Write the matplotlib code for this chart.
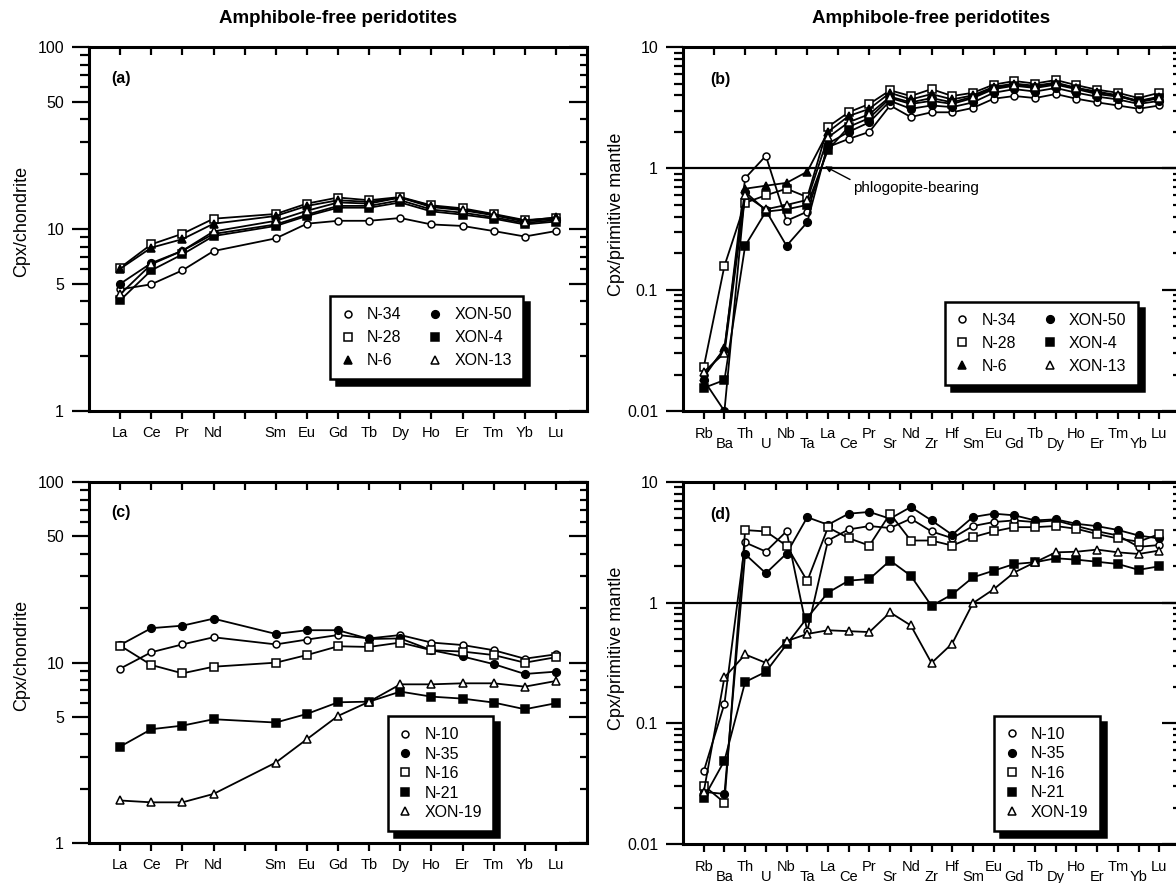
import numpy as np
import matplotlib
matplotlib.use('Agg')
import matplotlib.pyplot as plt
from matplotlib.lines import Line2D
from matplotlib.ticker import FixedLocator, FixedFormatter, NullFormatter

plt.rcParams['font.family'] = ['Liberation Sans', 'DejaVu Sans']

# element axes (Pm is a blank slot on the REE plots)
ree_axis = ['La', 'Ce', 'Pr', 'Nd', 'Pm', 'Sm', 'Eu', 'Gd', 'Tb', 'Dy', 'Ho', 'Er', 'Tm', 'Yb', 'Lu']
ree = ['La', 'Ce', 'Pr', 'Nd', 'Sm', 'Eu', 'Gd', 'Tb', 'Dy', 'Ho', 'Er', 'Tm', 'Yb', 'Lu']
trace = ['Rb', 'Ba', 'Th', 'U', 'Nb', 'Ta', 'La', 'Ce', 'Pr', 'Sr', 'Nd', 'Zr', 'Hf',
         'Sm', 'Eu', 'Gd', 'Tb', 'Dy', 'Ho', 'Er', 'Tm', 'Yb', 'Lu']

# (a) Cpx/chondrite, amphibole-free
a_N34 = [4.66, 4.97, 5.93, 7.57, 8.89, 10.7, 11.1, 11.1, 11.5, 10.6, 10.4, 9.75, 9.1, 9.75]
a_N28 = [6.13, 8.24, 9.42, 11.4, 12.1, 13.8, 14.9, 14.4, 15.0, 13.5, 13.0, 12.1, 11.2, 11.5]
a_N6 = [6.05, 7.9, 8.8, 10.7, 11.8, 13.4, 14.4, 14.1, 14.9, 13.4, 12.8, 12.0, 11.1, 11.6]
a_XON50 = [5.0, 6.5, 7.6, 9.4, 10.6, 12.0, 13.4, 13.4, 14.4, 12.8, 12.3, 11.6, 10.8, 11.2]
a_XON4 = [4.06, 5.93, 7.26, 9.15, 10.4, 11.8, 13.1, 13.1, 14.0, 12.5, 12.0, 11.4, 10.6, 11.0]
a_XON13 = [4.38, 6.4, 7.6, 9.7, 11.1, 12.6, 14.0, 13.8, 14.9, 13.2, 12.7, 11.9, 11.0, 11.4]

# (b) Cpx/primitive mantle, amphibole-free
b_N34 = [0.020, 0.032, 0.83, 1.27, 0.37, 0.44, 1.5, 1.75, 2.0, 3.3, 2.65, 2.9, 2.9,
         3.15, 3.75, 3.95, 3.8, 4.1, 3.75, 3.5, 3.3, 3.1, 3.3]
b_N28 = [0.023, 0.157, 0.52, 0.60, 0.68, 0.58, 2.2, 2.9, 3.4, 4.4, 3.95, 4.5, 3.95,
         4.2, 4.9, 5.25, 5.0, 5.35, 4.85, 4.45, 4.2, 3.8, 4.2]
b_N6 = [0.019, 0.033, 0.68, 0.72, 0.76, 0.94, 2.0, 2.7, 3.1, 4.2, 3.7, 4.1, 3.7,
        4.0, 4.7, 5.0, 4.8, 5.1, 4.6, 4.3, 4.0, 3.6, 3.9]
b_XON50 = [0.018, 0.010, 0.64, 0.45, 0.23, 0.36, 1.6, 2.0, 2.4, 3.6, 3.1, 3.3, 3.2,
           3.5, 4.2, 4.5, 4.3, 4.6, 4.2, 3.9, 3.7, 3.4, 3.6]
b_XON4 = [0.0155, 0.018, 0.23, 0.44, 0.46, 0.50, 1.42, 2.2, 2.6, 3.8, 3.4, 3.6, 3.4,
          3.8, 4.5, 4.8, 4.6, 4.9, 4.5, 4.1, 3.9, 3.6, 3.8]
b_XON13 = [0.021, 0.030, 0.60, 0.46, 0.50, 0.55, 1.8, 2.4, 2.8, 3.9, 3.5, 3.8, 3.5,
           3.9, 4.6, 4.9, 4.7, 5.0, 4.6, 4.2, 4.0, 3.5, 3.8]

# (c) Cpx/chondrite
c_N10 = [9.25, 11.4, 12.6, 13.8, 12.6, 13.4, 14.2, 13.6, 14.2, 12.9, 12.5, 11.7, 10.5, 11.1]
c_N35 = [12.5, 15.5, 16.0, 17.5, 14.4, 15.1, 15.1, 13.5, 13.6, 11.7, 10.8, 9.8, 8.64, 8.9]
c_N16 = [12.4, 9.69, 8.71, 9.48, 9.98, 11.0, 12.3, 12.2, 12.9, 11.7, 11.5, 11.0, 9.98, 10.7]
c_N21 = [3.42, 4.27, 4.47, 4.85, 4.65, 5.19, 6.02, 6.07, 6.9, 6.47, 6.31, 6.0, 5.51, 5.95]
c_XON19 = [1.72, 1.68, 1.68, 1.87, 2.79, 3.76, 5.06, 6.07, 7.57, 7.57, 7.67, 7.67, 7.35, 7.9]

# (d) Cpx/primitive mantle
d_N10 = [0.040, 0.145, 3.15, 2.65, 3.9, 0.58, 3.27, 4.04, 4.31, 4.15, 4.96, 3.89, 3.42,
         4.31, 4.65, 4.8, 4.65, 4.8, 4.31, 3.9, 3.6, 2.9, 3.0]
d_N35 = [0.027, 0.026, 2.52, 1.75, 2.55, 5.1, 4.42, 5.46, 5.64, 4.96, 6.2, 4.8, 3.65,
         5.12, 5.46, 5.29, 4.8, 4.9, 4.5, 4.3, 4.0, 3.6, 3.4]
d_N16 = [0.0305, 0.022, 3.99, 3.89, 2.96, 1.51, 4.2, 3.42, 2.97, 5.46, 3.27, 3.27, 2.97,
         3.49, 3.89, 4.22, 4.22, 4.31, 4.09, 3.7, 3.4, 3.2, 3.7]
d_N21 = [0.024, 0.049, 0.22, 0.267, 0.45, 0.75, 1.21, 1.52, 1.57, 2.23, 1.67, 0.94, 1.17,
         1.62, 1.84, 2.09, 2.16, 2.33, 2.27, 2.18, 2.09, 1.87, 2.0]
d_XON19 = [0.027, 0.24, 0.372, 0.317, 0.48, 0.55, 0.59, 0.58, 0.57, 0.83, 0.647, 0.316, 0.458,
           0.99, 1.29, 1.78, 2.16, 2.61, 2.64, 2.75, 2.61, 2.53, 2.7]

styles = {
    'oc': dict(marker='o', ms=5, mfc='white'),
    'fc': dict(marker='o', ms=5.5, mfc='black'),
    'os': dict(marker='s', ms=6, mfc='white'),
    'fs': dict(marker='s', ms=6, mfc='black'),
    'ft': dict(marker='^', ms=5.5, mfc='black'),
    'ot': dict(marker='^', ms=5.5, mfc='white'),
}

panel_a = [('N-34', a_N34, 'oc'), ('N-28', a_N28, 'os'), ('N-6', a_N6, 'ft'),
           ('XON-50', a_XON50, 'fc'), ('XON-4', a_XON4, 'fs'), ('XON-13', a_XON13, 'ot')]
panel_b = [('N-34', b_N34, 'oc'), ('N-28', b_N28, 'os'), ('N-6', b_N6, 'ft'),
           ('XON-50', b_XON50, 'fc'), ('XON-4', b_XON4, 'fs'), ('XON-13', b_XON13, 'ot')]
panel_c = [('N-10', c_N10, 'oc'), ('N-35', c_N35, 'fc'), ('N-16', c_N16, 'os'),
           ('N-21', c_N21, 'fs'), ('XON-19', c_XON19, 'ot')]
panel_d = [('N-10', d_N10, 'oc'), ('N-35', d_N35, 'fc'), ('N-16', d_N16, 'os'),
           ('N-21', d_N21, 'fs'), ('XON-19', d_XON19, 'ot')]

SPINE_W = 2.2
TICK_W = 1.6


def log_minor(lo_exp, hi_exp):
    return [m * 10.0 ** e for e in range(lo_exp, hi_exp) for m in range(2, 10)]


def style_axes(ax, n_slots, top_ticks, ylim, yticks, ylabels, minor, ylabel):
    ax.set_yscale('log')
    ax.set_ylim(*ylim)
    ax.set_xlim(-1, n_slots)
    for s in ax.spines.values():
        s.set_linewidth(SPINE_W)
    ax.yaxis.set_major_locator(FixedLocator(yticks))
    ax.yaxis.set_major_formatter(FixedFormatter(ylabels))
    ax.yaxis.set_minor_locator(FixedLocator(minor))
    ax.yaxis.set_minor_formatter(NullFormatter())
    ax.tick_params(axis='y', which='major', direction='out', length=12, width=TICK_W,
                   labelsize=11.5, pad=6, left=True, right=False)
    ax.tick_params(axis='y', which='minor', direction='out', length=6.5, width=TICK_W,
                   left=True, right=False)
    ax.tick_params(axis='x', which='both', direction='out', length=5.5, width=TICK_W,
                   labelsize=10.5, top=False)
    ax.set_ylabel(ylabel, fontsize=13)

    # inward ticks on the right
    axr = ax.twinx()
    axr.set_yscale('log')
    axr.set_ylim(*ylim)
    axr.yaxis.set_major_locator(FixedLocator(yticks))
    axr.yaxis.set_minor_locator(FixedLocator(minor))
    axr.yaxis.set_major_formatter(NullFormatter())
    axr.yaxis.set_minor_formatter(NullFormatter())
    axr.tick_params(axis='y', which='major', direction='in', length=13, width=TICK_W)
    axr.tick_params(axis='y', which='minor', direction='in', length=5, width=TICK_W)
    for s in axr.spines.values():
        s.set_visible(False)

    # inward ticks on the top
    axt = ax.twiny()
    axt.set_xlim(ax.get_xlim())
    axt.xaxis.set_major_locator(FixedLocator(top_ticks))
    axt.xaxis.set_major_formatter(NullFormatter())
    axt.tick_params(axis='x', which='major', direction='in', length=5.5, width=TICK_W)
    for s in axt.spines.values():
        s.set_visible(False)


def draw(ax, series, xs):
    for name, vals, st in series:
        ax.plot(xs, vals, color='black', lw=1.3, mec='black', mew=1.1, zorder=3, **styles[st])


def add_legend(ax, series, anchor, ncol, spacing):
    handles = [Line2D([], [], ls='none', color='black', mec='black', mew=1.1, **styles[st])
               for _, _, st in series]
    leg = ax.legend(handles, [n for n, _, _ in series], loc='upper left', bbox_to_anchor=anchor,
                    ncol=ncol, fontsize=11.5, frameon=True, fancybox=False, framealpha=1,
                    edgecolor='black', borderaxespad=0, borderpad=0.7, handlelength=0.8,
                    handletextpad=0.8, columnspacing=1.7, labelspacing=spacing,
                    shadow={'color': 'black', 'alpha': 1, 'ox': 4.3, 'oy': -4.3})
    leg.get_frame().set_linewidth(1.8)
    leg.set_zorder(10)


fig = plt.figure(figsize=(11.76, 8.83), dpi=100)
ax_a = fig.add_axes([0.0757, 0.5345, 0.4235, 0.4122])
ax_b = fig.add_axes([0.5808, 0.5345, 0.4226, 0.4122])
ax_c = fig.add_axes([0.0757, 0.0453, 0.4235, 0.4088])
ax_d = fig.add_axes([0.5808, 0.0442, 0.4226, 0.4100])

ree_x = [ree_axis.index(e) for e in ree]
trace_x = list(range(len(trace)))

for ax, series, lab in [(ax_a, panel_a, '(a)'), (ax_c, panel_c, '(c)')]:
    style_axes(ax, len(ree_axis), list(range(len(ree_axis))), (1, 100), [1, 5, 10, 50, 100],
               ['1', '5', '10', '50', '100'], log_minor(0, 2), 'Cpx/chondrite')
    ax.xaxis.set_major_locator(FixedLocator(list(range(len(ree_axis)))))
    ax.xaxis.set_major_formatter(FixedFormatter([e if e != 'Pm' else '' for e in ree_axis]))
    ax.tick_params(axis='x', pad=5)
    ax.yaxis.set_label_coords(-0.118, 0.52)
    draw(ax, series, ree_x)
    ax.text(0.064, 0.915, lab, transform=ax.transAxes, fontsize=11.5, fontweight='bold',
            ha='center', va='center')

top_trace = list(np.arange(-1, len(trace) + 0.01, 1.5))[1:-1]
for ax, series, lab in [(ax_b, panel_b, '(b)'), (ax_d, panel_d, '(d)')]:
    style_axes(ax, len(trace), top_trace, (0.01, 10), [0.01, 0.1, 1, 10],
               ['0.01', '0.1', '1', '10'], log_minor(-2, 1), 'Cpx/primitive mantle')
    ax.xaxis.set_major_locator(FixedLocator(trace_x[::2]))
    ax.xaxis.set_major_formatter(FixedFormatter(trace[::2]))
    ax.xaxis.set_minor_locator(FixedLocator(trace_x[1::2]))
    ax.xaxis.set_minor_formatter(FixedFormatter(trace[1::2]))
    ax.tick_params(axis='x', which='major', pad=6)
    ax.tick_params(axis='x', which='minor', pad=13, labelsize=10.5)
    ax.yaxis.set_label_coords(-0.117, 0.54)
    ax.axhline(1, color='black', lw=1.6, zorder=2)
    draw(ax, series, trace_x)
    ax.text(0.076, 0.91, lab, transform=ax.transAxes, fontsize=11.5, fontweight='bold',
            ha='center', va='center')

ax_b.annotate('phlogopite-bearing', xy=(5.85, 1.04), xytext=(7.2, 0.69), fontsize=11,
              ha='left', va='center',
              arrowprops=dict(arrowstyle='-|>', color='black', lw=1.0, mutation_scale=9,
                              shrinkA=0, shrinkB=0, relpos=(0.0, 1.0)))

add_legend(ax_a, panel_a, (0.484, 0.316), 2, 0.5)
add_legend(ax_b, panel_b, (0.527, 0.30), 2, 0.5)
add_legend(ax_c, panel_c, (0.60, 0.352), 1, 0.28)
add_legend(ax_d, panel_d, (0.626, 0.354), 1, 0.28)

for ax in (ax_a, ax_b):
    ax.set_title('Amphibole-free peridotites', fontsize=13.5, fontweight='bold', pad=17)

fig.savefig('out.png', dpi=100)
